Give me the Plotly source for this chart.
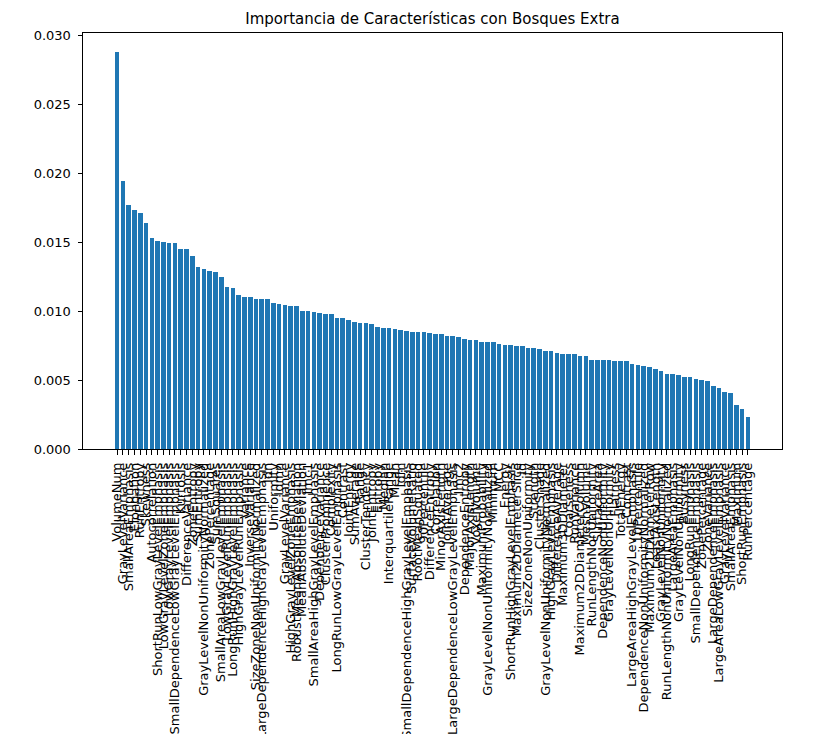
import plotly.graph_objects as go

# Feature names, sorted by decreasing importance
features = [
    "VolumeNum", "GrayLevelVariance", "SmallAreaEmphasis", "Elongation", "RunEntropy",
    "Skewness", "Autocorrelation", "ShortRunLowGrayLevelEmphasis", "LowGrayLevelZoneEmphasis", "LowGrayLevelEmphasis",
    "SmallDependenceLowGrayLevelEmphasis", "Kurtosis", "DifferenceVariance", "ZoneEntropy", "SumEntropy",
    "GrayLevelNonUniformityNormalized", "ZonePercentage", "SumSquares", "SmallAreaLowGrayLevelEmphasis", "LowGrayLevelRunEmphasis",
    "LongRunHighGrayLevelEmphasis", "HighGrayLevelRunEmphasis", "Variance", "InverseVariance", "SizeZoneNonUniformityNormalized",
    "LargeDependenceHighGrayLevelEmphasis", "Idn", "Uniformity", "Idmn", "GrayLevelVariance",
    "HighGrayLevelZoneEmphasis", "RobustMeanAbsoluteDeviation", "MeanAbsoluteDeviation", "Imc1", "SmallAreaHighGrayLevelEmphasis",
    "DependenceVariance", "ClusterProminence", "Complexity", "LongRunLowGrayLevelEmphasis", "Contrast",
    "JointEnergy", "SumAverage", "Range", "ClusterTendency", "JointEntropy",
    "Entropy", "Median", "InterquartileRange", "Mean", "Idm",
    "SmallDependenceHighGrayLevelEmphasis", "SurfaceVolumeRatio", "RootMeanSquared", "90Percentile", "DifferenceEntropy",
    "Correlation", "MinorAxisLength", "JointAverage", "LargeDependenceLowGrayLevelEmphasis", "Imc2",
    "DependenceEntropy", "MajorAxisLength", "VoxelVolume", "MaximumProbability", "GrayLevelNonUniformityNormalized",
    "Minimum", "MCC", "Energy", "ShortRunHighGrayLevelEmphasis", "Maximum2DDiameterSlice",
    "Id", "SizeZoneNonUniformity", "Strength", "ClusterShade", "GrayLevelNonUniformityNormalized",
    "HighGrayLevelEmphasis", "DifferenceAverage", "Maximum3DDiameter", "Coarseness", "RunVariance",
    "Maximum2DDiameterColumn", "MeshVolume", "RunLengthNonUniformity", "SurfaceArea", "DependenceNonUniformity",
    "GrayLevelNonUniformity", "Flatness", "TotalEnergy", "Contrast", "LargeAreaHighGrayLevelEmphasis",
    "10Percentile", "DependenceNonUniformityNormalized", "Maximum2DDiameterRow", "LeastAxisLength", "GrayLevelNonUniformity",
    "RunLengthNonUniformityNormalized", "LargeAreaEmphasis", "GrayLevelNonUniformity", "Busyness", "LongRunEmphasis",
    "SmallDependenceEmphasis", "ZonePercentage", "ZoneVariance", "LargeDependenceEmphasis", "LargeAreaLowGrayLevelEmphasis",
    "GrayLevelVariance", "SmallAreaEmphasis", "Maximum", "ShortRunEmphasis", "RunPercentage",
]

importances = [
    0.02880, 0.01940, 0.01771, 0.01735, 0.01710, 0.01638, 0.01532, 0.01505, 0.01498, 0.01493,
    0.01493, 0.01447, 0.01447, 0.01401, 0.01322, 0.01302, 0.01290, 0.01283, 0.01244, 0.01172,
    0.01165, 0.01114, 0.01102, 0.01102, 0.01090, 0.01090, 0.01087, 0.01061, 0.01054, 0.01046,
    0.01034, 0.01034, 0.01003, 0.01003, 0.00996, 0.00988, 0.00981, 0.00981, 0.00947, 0.00947,
    0.00935, 0.00923, 0.00911, 0.00911, 0.00904, 0.00884, 0.00877, 0.00877, 0.00870, 0.00865,
    0.00858, 0.00851, 0.00851, 0.00846, 0.00838, 0.00837, 0.00831, 0.00819, 0.00819, 0.00812,
    0.00800, 0.00793, 0.00793, 0.00778, 0.00778, 0.00778, 0.00759, 0.00751, 0.00751, 0.00744,
    0.00744, 0.00732, 0.00732, 0.00725, 0.00710, 0.00710, 0.00699, 0.00691, 0.00686, 0.00686,
    0.00674, 0.00674, 0.00648, 0.00648, 0.00643, 0.00643, 0.00636, 0.00636, 0.00636, 0.00616,
    0.00609, 0.00604, 0.00597, 0.00583, 0.00563, 0.00543, 0.00543, 0.00536, 0.00524, 0.00524,
    0.00510, 0.00498, 0.00491, 0.00459, 0.00440, 0.00413, 0.00406, 0.00322, 0.00288, 0.00230,
]

y_ticks = [0.000, 0.005, 0.010, 0.015, 0.020, 0.025, 0.030]

positions = list(range(len(features)))
n = len(features)
span = (n - 1) + 0.8
x_range = [-0.4 - 0.05 * span, (n - 1) + 0.4 + 0.05 * span]

FONT = "DejaVu Sans"

fig = go.Figure(
    go.Bar(
        x=positions,
        y=importances,
        width=0.8,
        marker=dict(color="#1f77b4", line=dict(width=0)),
        hovertext=features,
    )
)

fig.update_layout(
    width=817,
    height=734,
    margin=dict(l=83, r=35, t=33, b=285, autoexpand=False),
    paper_bgcolor="white",
    plot_bgcolor="white",
    showlegend=False,
    font=dict(family=FONT, size=13, color="black"),
    title=dict(
        text="Importancia de Características con Bosques Extra",
        x=(83 + 782) / 2 / 817,
        xanchor="center",
        y=1 - 19 / 734,
        yanchor="middle",
        font=dict(family=FONT, size=15, color="black"),
    ),
    bargap=0,
)

fig.update_xaxes(
    range=x_range,
    tickmode="array",
    tickvals=positions,
    ticktext=features,
    tickangle=-90,
    ticks="outside",
    ticklen=4.5,
    tickwidth=0.8,
    tickcolor="black",
    ticklabelstandoff=3,
    showgrid=False,
    zeroline=False,
    showline=True,
    linecolor="black",
    linewidth=1,
    mirror=True,
    automargin=False,
    tickfont=dict(family=FONT, size=13, color="black"),
)

fig.update_yaxes(
    range=[0, 0.03015],
    tickmode="array",
    tickvals=y_ticks,
    ticktext=[f"{v:.3f}" for v in y_ticks],
    ticks="outside",
    ticklen=4.5,
    tickwidth=0.8,
    tickcolor="black",
    ticklabelstandoff=4,
    showgrid=False,
    zeroline=False,
    showline=True,
    linecolor="black",
    linewidth=1,
    mirror=True,
    automargin=False,
    tickfont=dict(family=FONT, size=13, color="black"),
)

fig.write_html("out.html")
